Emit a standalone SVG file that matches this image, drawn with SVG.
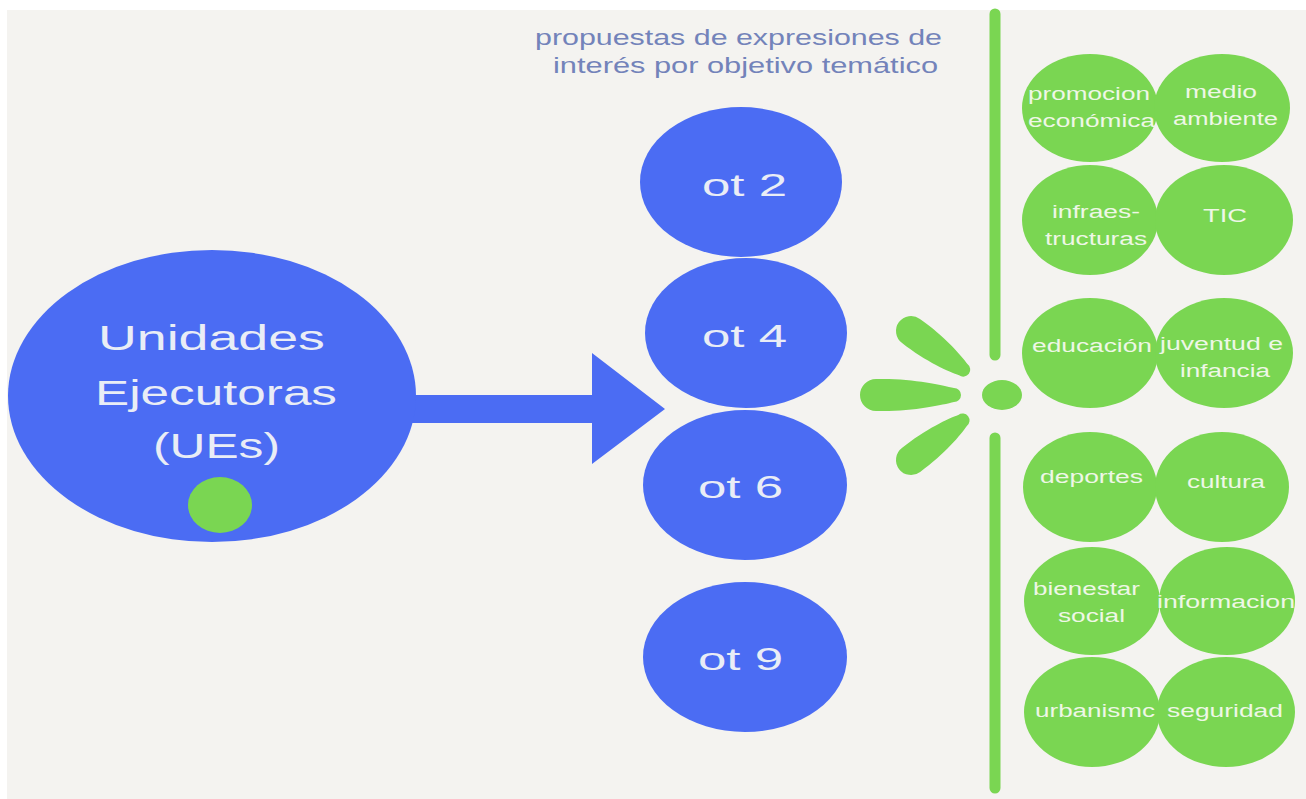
<svg xmlns="http://www.w3.org/2000/svg" width="1306" height="799" viewBox="0 0 1306 799">
<style>
.blue{fill:#4b6cf3}
.green{fill:#7ad652}
.bt{font-family:"Liberation Sans",Arial,sans-serif;fill:#e9edf6}
.gt{font-family:"Liberation Sans",Arial,sans-serif;fill:#eef7e6;font-size:18px}
.title{font-family:"Liberation Sans",Arial,sans-serif;fill:#7383ba;font-size:22px}
</style>
<rect x="0" y="0" width="1306" height="799" fill="#ffffff"/>
<rect x="7" y="10" width="1299" height="789" fill="#f4f3f0"/>

<g id="title">
<text class="title" x="535" y="45" textLength="407" lengthAdjust="spacingAndGlyphs">propuestas de expresiones de</text>
<text class="title" x="553" y="73" textLength="385" lengthAdjust="spacingAndGlyphs">interés por objetivo temático</text>
</g>

<g id="connectors">
<polygon class="blue" points="405,395 592,395 592,353 665,409 592,464 592,423 405,423"/>
</g>

<g id="node-ues">
<ellipse class="blue" cx="212" cy="396" rx="204" ry="146"/>
<text class="bt" x="98" y="350" font-size="35" textLength="227" lengthAdjust="spacingAndGlyphs">Unidades</text>
<text class="bt" x="95" y="405" font-size="35" textLength="242" lengthAdjust="spacingAndGlyphs">Ejecutoras</text>
<text class="bt" x="153" y="458" font-size="35" textLength="127" lengthAdjust="spacingAndGlyphs">(UEs)</text>
<ellipse class="green" cx="220" cy="505" rx="32" ry="28"/>
</g>

<g id="node-ot2">
<ellipse class="blue" cx="741" cy="182" rx="101" ry="75"/>
<text class="bt" x="702" y="196" font-size="32" textLength="85" lengthAdjust="spacingAndGlyphs">ot 2</text>
</g>
<g id="node-ot4">
<ellipse class="blue" cx="746" cy="333" rx="101" ry="75"/>
<text class="bt" x="702" y="347" font-size="32" textLength="85" lengthAdjust="spacingAndGlyphs">ot 4</text>
</g>
<g id="node-ot6">
<ellipse class="blue" cx="745" cy="485" rx="102" ry="75"/>
<text class="bt" x="698" y="498" font-size="32" textLength="85" lengthAdjust="spacingAndGlyphs">ot 6</text>
</g>
<g id="node-ot9">
<ellipse class="blue" cx="745" cy="657" rx="102" ry="75"/>
<text class="bt" x="698" y="670" font-size="32" textLength="85" lengthAdjust="spacingAndGlyphs">ot 9</text>
</g>

<g id="separator">
<line x1="995" y1="14" x2="995" y2="355" stroke="#7ad652" stroke-width="11" stroke-linecap="round"/>
<line x1="995" y1="438" x2="995" y2="788" stroke="#7ad652" stroke-width="11" stroke-linecap="round"/>
<ellipse class="green" cx="1002" cy="395" rx="20" ry="15"/>
<path class="green" transform="translate(876,395)" d="M0,-16 C35,-17 66,-10 78,-7 A7 7 0 0 1 78 7 C66 10 35 17 0 16 A16 16 0 0 1 0 -16Z"/>
<path class="green" transform="translate(911,331) rotate(36.5)" d="M0,-15 C30,-16 56,-10 65,-7 A7 7 0 0 1 65 7 C56 10 30 16 0 15 A15 15 0 0 1 0 -15Z"/>
<path class="green" transform="translate(911,460) rotate(-37.5)" d="M0,-15 C30,-16 56,-10 65,-7 A7 7 0 0 1 65 7 C56 10 30 16 0 15 A15 15 0 0 1 0 -15Z"/>
</g>

<g id="node-promocion">
<ellipse class="green" cx="1090" cy="108" rx="68" ry="54"/>
</g>
<g id="node-medio">
<ellipse class="green" cx="1222" cy="108" rx="68" ry="54"/>
</g>
<g id="node-infra">
<ellipse class="green" cx="1090" cy="220" rx="68" ry="55"/>
</g>
<g id="node-tic">
<ellipse class="green" cx="1224" cy="220" rx="69" ry="55"/>
</g>
<g id="node-educacion">
<ellipse class="green" cx="1090" cy="353" rx="68" ry="55"/>
</g>
<g id="node-juventud">
<ellipse class="green" cx="1224" cy="353" rx="69" ry="55"/>
</g>
<g id="node-deportes">
<ellipse class="green" cx="1090" cy="487" rx="67" ry="55"/>
</g>
<g id="node-cultura">
<ellipse class="green" cx="1222" cy="487" rx="67" ry="55"/>
</g>
<g id="node-bienestar">
<ellipse class="green" cx="1092" cy="601" rx="68" ry="54"/>
</g>
<g id="node-informacion">
<ellipse class="green" cx="1227" cy="601" rx="68" ry="54"/>
</g>
<g id="node-urbanismo">
<ellipse class="green" cx="1092" cy="712" rx="68" ry="55"/>
</g>
<g id="node-seguridad">
<ellipse class="green" cx="1226" cy="712" rx="69" ry="55"/>
</g>

<g id="green-labels">
<text class="gt" x="1028" y="100" textLength="122" lengthAdjust="spacingAndGlyphs">promocion</text>
<text class="gt" x="1028" y="127" textLength="127" lengthAdjust="spacingAndGlyphs">económica</text>
<text class="gt" x="1185" y="98" textLength="72" lengthAdjust="spacingAndGlyphs">medio</text>
<text class="gt" x="1173" y="125" textLength="105" lengthAdjust="spacingAndGlyphs">ambiente</text>
<text class="gt" x="1052" y="218" textLength="88" lengthAdjust="spacingAndGlyphs">infraes-</text>
<text class="gt" x="1045" y="245" textLength="102" lengthAdjust="spacingAndGlyphs">tructuras</text>
<text class="gt" x="1203" y="222" textLength="44" lengthAdjust="spacingAndGlyphs">TIC</text>
<text class="gt" x="1032" y="352" textLength="120" lengthAdjust="spacingAndGlyphs">educación</text>
<text class="gt" x="1160" y="350" textLength="123" lengthAdjust="spacingAndGlyphs">juventud e</text>
<text class="gt" x="1180" y="377" textLength="90" lengthAdjust="spacingAndGlyphs">infancia</text>
<text class="gt" x="1040" y="483" textLength="103" lengthAdjust="spacingAndGlyphs">deportes</text>
<text class="gt" x="1187" y="488" textLength="78" lengthAdjust="spacingAndGlyphs">cultura</text>
<text class="gt" x="1033" y="595" textLength="107" lengthAdjust="spacingAndGlyphs">bienestar</text>
<text class="gt" x="1058" y="622" textLength="67" lengthAdjust="spacingAndGlyphs">social</text>
<text class="gt" x="1157" y="608" textLength="138" lengthAdjust="spacingAndGlyphs">informacion</text>
<text class="gt" x="1035" y="717" textLength="120" lengthAdjust="spacingAndGlyphs">urbanismc</text>
<text class="gt" x="1167" y="717" textLength="116" lengthAdjust="spacingAndGlyphs">seguridad</text>
</g>
</svg>
